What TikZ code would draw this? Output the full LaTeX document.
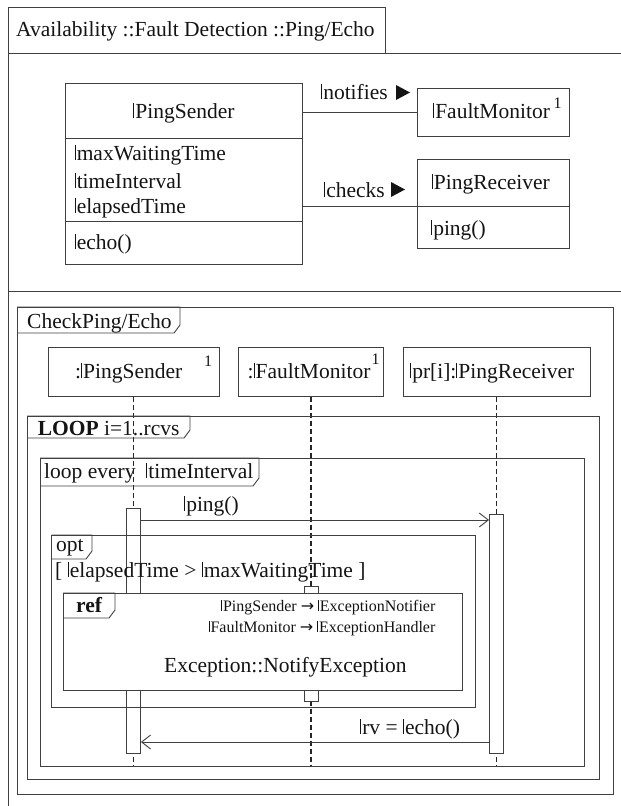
\documentclass[tikz,border=0pt]{standalone}
\usepackage{fontspec}
\setmainfont{Liberation Serif}
\newfontfamily\arrowfont{DejaVu Sans}
\usetikzlibrary{arrows.meta}
\definecolor{linecol}{gray}{0.25}
\definecolor{inkcol}{gray}{0.08}
% role marker: thin upright bar in front of a role name
\newcommand{\rolebar}{\rule{0.55pt}{0.68em}\kern0.07em}
% tab of a UML frame: top-left (#1,#2), bottom-right (#3,#4), with cut corner
\newcommand{\fragtab}[4]{\draw[ln] (#1,#2) -- (#3,#2) -- (#3,#4-8) -- (#3-6,#4) -- (#1,#4);}
\begin{document}
\begin{tikzpicture}[x=1pt,y=-1pt,
  ln/.style={draw=linecol,line width=0.9pt},
  txt/.style={inner sep=0pt,anchor=base west,text=inkcol,font=\fontsize{21.5}{24}\selectfont},
  sml/.style={inner sep=0pt,anchor=base east,text=inkcol,font=\fontsize{16}{18}\selectfont},
  sup/.style={inner sep=0pt,anchor=base,text=inkcol,font=\fontsize{16}{18}\selectfont},
  box/.style={ln,inner sep=0pt,anchor=north west},
  life/.style={draw=black!85,line width=1.8pt,dash pattern=on 5pt off 3pt},
  act/.style={ln,fill=white,inner sep=0pt,minimum width=14pt,anchor=north},
  msg/.style={ln,-{Straight Barb[length=9pt,width=14pt,line width=0.9pt]}}]
\useasboundingbox (0,0) rectangle (621,806);

% ---------- outer package frame ----------
\draw[ln] (8,806) -- (8,7) -- (385,7) -- (385,53);
\draw[ln] (8,53) -- (621,53);
\draw[ln] (8,291) -- (621,291);
\node[txt] (title) at (16,36) {Availability ::Fault Detection ::Ping/Echo};

% ---------- class diagram ----------
\node[box,minimum width=237pt,minimum height=181pt] (ps) at (65,83) {};
\draw[ln] (ps.west |- 0,138) -- (ps.east |- 0,138);
\draw[ln] (ps.west |- 0,221) -- (ps.east |- 0,221);
\node[txt,anchor=base] (psname) at (184,118) {\rolebar PingSender};
\node[txt] (a1) at (74.5,160) {\rolebar maxWaitingTime};
\node[txt] (a2) at (74.5,188) {\rolebar timeInterval};
\node[txt] (a3) at (74.5,213) {\rolebar elapsedTime};
\node[txt] (o1) at (74.5,249) {\rolebar echo()};

\node[box,minimum width=152pt,minimum height=48pt] (fm) at (417,88) {};
\node[txt] (fmname) at (433,118) {\rolebar FaultMonitor};
\node[sup] (fmsup) at (557.6,108) {1};

\node[box,minimum width=152pt,minimum height=89pt] (pr) at (417,159) {};
\coordinate (chk) at (417,206);
\draw[ln] (chk) -- (pr.east |- chk);
\node[txt] (prname) at (431.7,189) {\rolebar PingReceiver};
\node[txt] (prop) at (431,235) {\rolebar ping()};

% associations
\draw[ln] (ps.east |- fm.west) -- (fm.west);
\node[txt] (notif) at (321,99) {\rolebar notifies};
\fill[inkcol] (396,85) -- (410,92.5) -- (396,100) -- cycle;
\draw[ln] (ps.east |- chk) -- (chk);
\node[txt] (chks) at (324,197) {\rolebar checks};
\fill[inkcol] (391,182) -- (405,189.5) -- (391,197) -- cycle;

% ---------- sequence diagram ----------
\draw[ln] (17,307) rectangle (613,794);
\fragtab{17}{307}{180}{333}
\node[txt] (sdname) at (27,328) {CheckPing/Echo};

% lifeline heads
\node[box,minimum width=171pt,minimum height=49pt] (psh) at (47.5,347) {};
\node[txt] (pshname) at (75,378) {:\rolebar PingSender};
\node[sup] (pshsup) at (208,366) {1};
\node[box,minimum width=145pt,minimum height=49pt] (fmh) at (238,347) {};
\node[txt] (fmhname) at (247.5,378) {:\rolebar FaultMonitor};
\node[sup] (fmhsup) at (375.5,364) {1};
\node[box,minimum width=187pt,minimum height=49pt] (prh) at (402.5,347) {};
\node[txt] (prhname) at (410,378) {\rolebar pr[i]:\rolebar PingReceiver};

% lifelines
\coordinate (lifeend) at (0,765);
\draw[life] (psh.south) -- (psh.south |- lifeend);
\draw[life] (fmh.south) -- (fmh.south |- lifeend);
\draw[life] (prh.south) -- (prh.south |- lifeend);

% activations
\node[act,minimum height=245pt] (psact) at (psh.south |- 0,508) {};
\node[act,minimum height=239pt] (pract) at (prh.south |- 0,514) {};
\node[act,minimum height=115pt] (fmact) at (fmh.south |- 0,586) {};

% combined fragments
\draw[ln] (27,416) rectangle (599,779);
\fragtab{27}{416}{190}{438}
\node[txt] (looplbl) at (37.6,435) {\textbf{LOOP} i=1..rcvs};

\draw[ln] (40,458) rectangle (584,766);
\fragtab{40}{458}{259}{486}
\node[txt] (everylbl) at (44,478) {loop every \ \rolebar timeInterval};

\draw[ln] (51.5,535) rectangle (475,707);
\fragtab{51.5}{535}{92}{559}
\node[txt] (optlbl) at (56,551) {opt};
\node[txt] (guard) at (55,577) {[ \rolebar elapsedTime > \rolebar maxWaitingTime ]};

% messages
\coordinate (pingy) at (0,520);
\draw[msg] (psact.east |- pingy) -- (pract.west |- pingy);
\node[txt] (pinglbl) at (184,511) {\rolebar ping()};
\coordinate (rety) at (0,742);
\draw[msg] (pract.west |- rety) -- (psact.east |- rety);
\node[txt] (retlbl) at (360,734) {\rolebar rv = \rolebar echo()};

% interaction use
\draw[ln,fill=white] (63,593) rectangle (462.6,690);
\fragtab{63}{593}{115}{618}
\node[txt] (reflbl) at (76,612) {\textbf{ref}};
\node[sml] (map1) at (435.6,611) {\rolebar PingSender {\arrowfont →}\ \rolebar ExceptionNotifier};
\node[sml] (map2) at (435.6,632) {\rolebar FaultMonitor {\arrowfont →}\ \rolebar ExceptionHandler};
\node[txt] (refname) at (164,672) {Exception::NotifyException};
\end{tikzpicture}
\end{document}
